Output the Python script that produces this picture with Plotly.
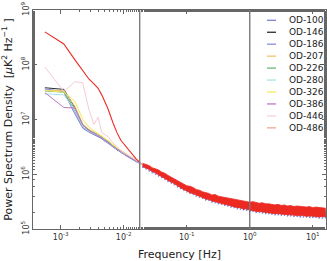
import numpy as np
import plotly.graph_objects as go

# ---------------- data ----------------
series_names = ["OD-100", "OD-146", "OD-186", "OD-207", "OD-226",
                "OD-280", "OD-326", "OD-386", "OD-446", "OD-486"]

# low-frequency spectral bins [Hz]
freq_lo = [0.00056, 0.00112, 0.00168, 0.00224, 0.0028, 0.00336, 0.00392, 0.00448,
           0.00504, 0.0056, 0.0067, 0.0078, 0.009, 0.0112, 0.0134, 0.0157, 0.0179]

# log10 PSD [uK^2/Hz] at freq_lo
lo_od100 = [7.54, 7.50, 7.10, 6.84, 6.77, 6.72, 6.69, 6.65, 6.60, 6.57, 6.50, 6.44, 6.40, 6.33, 6.27, 6.23, 6.20]
lo_od146 = [7.58, 7.55, 7.22, 6.90, 6.81, 6.74, 6.70, 6.67, 6.63, 6.59, 6.51, 6.45, 6.41, 6.34, 6.29, 6.25, 6.21]
lo_od186 = [7.56, 7.51, 7.15, 6.86, 6.78, 6.73, 6.70, 6.66, 6.61, 6.58, 6.51, 6.45, 6.41, 6.34, 6.28, 6.24, 6.20]
lo_od207 = [7.53, 7.53, 7.24, 6.92, 6.82, 6.77, 6.72, 6.69, 6.64, 6.61, 6.53, 6.47, 6.43, 6.36, 6.30, 6.26, 6.22]
lo_od226 = [7.52, 7.50, 7.18, 6.89, 6.80, 6.76, 6.71, 6.68, 6.63, 6.60, 6.52, 6.46, 6.42, 6.35, 6.29, 6.25, 6.21]
lo_od280 = [7.47, 7.45, 7.17, 6.87, 6.79, 6.74, 6.70, 6.67, 6.62, 6.59, 6.51, 6.45, 6.41, 6.35, 6.29, 6.25, 6.21]
lo_od326 = [7.53, 7.50, 7.33, 7.00, 6.86, 6.80, 6.74, 6.70, 6.66, 6.62, 6.55, 6.48, 6.44, 6.37, 6.31, 6.26, 6.22]
lo_od386 = [7.49, 7.22, 7.21, 6.90, 6.80, 6.75, 6.70, 6.67, 6.62, 6.59, 6.51, 6.46, 6.42, 6.35, 6.29, 6.25, 6.21]
lo_od446 = [7.96, 7.51, 7.69, 7.67, 7.18, 6.91, 7.04, 6.76, 6.72, 6.69, 6.58, 6.50, 6.43, 6.36, 6.30, 6.26, 6.22]
lo_od486 = [8.60, 8.38, 8.09, 7.89, 7.74, 7.65, 7.57, 7.45, 7.33, 7.20, 6.95, 6.76, 6.62, 6.48, 6.38, 6.28, 6.22]

# high-frequency part [Hz]
freq_hi = [0.01995, 0.02239, 0.02512, 0.02818, 0.03162, 0.03548, 0.03981, 0.04467, 0.05012, 0.05623,
           0.0631, 0.07079, 0.07943, 0.08913, 0.1, 0.1122, 0.1259, 0.1413, 0.1585, 0.1778,
           0.1995, 0.2239, 0.2512, 0.2818, 0.3162, 0.3548, 0.3981, 0.4467, 0.5012, 0.5623,
           0.631, 0.7079, 0.7943, 0.8913, 1.0, 1.122, 1.259, 1.413, 1.585, 1.778,
           1.995, 2.239, 2.512, 2.818, 3.162, 3.548, 3.981, 4.467, 5.012, 5.623,
           6.31, 7.079, 7.943, 8.913, 10.0, 11.22, 12.59, 14.13, 15.85]

# log10 PSD, typical level of the cluster of spectra
hi_center = [6.17, 6.14, 6.12, 6.09, 6.06, 6.03, 6.00, 5.97, 5.93, 5.90,
             5.87, 5.83, 5.80, 5.77, 5.74, 5.72, 5.70, 5.67, 5.65, 5.63,
             5.61, 5.59, 5.57, 5.56, 5.54, 5.53, 5.51, 5.50, 5.49, 5.47,
             5.46, 5.45, 5.44, 5.43, 5.42, 5.41, 5.40, 5.39, 5.39, 5.38,
             5.37, 5.37, 5.36, 5.36, 5.35, 5.35, 5.34, 5.34, 5.33, 5.33,
             5.33, 5.32, 5.32, 5.32, 5.31, 5.31, 5.31, 5.30, 5.30]
# upper / lower envelope of the noisy OD-486 spectrum
red_upper = [6.20, 6.18, 6.16, 6.12, 6.10, 6.08, 6.04, 6.02, 5.98, 5.95,
             5.92, 5.89, 5.85, 5.83, 5.79, 5.78, 5.76, 5.72, 5.71, 5.68,
             5.67, 5.65, 5.62, 5.63, 5.60, 5.59, 5.58, 5.56, 5.56, 5.54,
             5.53, 5.53, 5.51, 5.51, 5.49, 5.50, 5.48, 5.47, 5.48, 5.46,
             5.46, 5.45, 5.44, 5.45, 5.43, 5.44, 5.42, 5.43, 5.41, 5.42,
             5.41, 5.41, 5.40, 5.41, 5.39, 5.40, 5.39, 5.39, 5.38]
red_lower = [6.14, 6.11, 6.09, 6.05, 6.03, 5.99, 5.96, 5.93, 5.89, 5.86,
             5.83, 5.79, 5.76, 5.72, 5.70, 5.66, 5.65, 5.62, 5.60, 5.58,
             5.55, 5.54, 5.51, 5.50, 5.48, 5.47, 5.45, 5.44, 5.42, 5.41,
             5.39, 5.39, 5.36, 5.37, 5.34, 5.34, 5.32, 5.32, 5.31, 5.31,
             5.29, 5.29, 5.28, 5.28, 5.27, 5.27, 5.26, 5.26, 5.25, 5.25,
             5.24, 5.25, 5.23, 5.24, 5.23, 5.23, 5.22, 5.23, 5.22]
# lower envelope of OD-100 (peeks out below the red band)
blue_lower = [6.12, 6.09, 6.05, 6.02, 5.99, 5.96, 5.93, 5.90, 5.86, 5.83,
              5.80, 5.76, 5.73, 5.70, 5.67, 5.64, 5.62, 5.59, 5.57, 5.55,
              5.52, 5.51, 5.48, 5.47, 5.45, 5.44, 5.42, 5.41, 5.39, 5.38,
              5.36, 5.35, 5.34, 5.33, 5.31, 5.31, 5.29, 5.29, 5.28, 5.27,
              5.27, 5.26, 5.25, 5.25, 5.24, 5.24, 5.23, 5.23, 5.22, 5.22,
              5.21, 5.21, 5.21, 5.20, 5.20, 5.20, 5.19, 5.19, 5.19]

marker_freqs = [0.0179, 1.0]

colors = ["#7b80d3", "#2b2b2b", "#8a8fdc", "#f5c26b", "#6fb675",
          "#a5e3ea", "#f0ec5a", "#bf78c2", "#f7cad3", "#ec2a22"]
legend_colors = ["#7b80d3", "#2b2b2b", "#8a8fdc", "#f5c26b", "#6fb675",
                 "#a5e3ea", "#f0ec5a", "#bf78c2", "#f7d4da", "#f2a597"]

lo_data = [lo_od100, lo_od146, lo_od186, lo_od207, lo_od226,
           lo_od280, lo_od326, lo_od386, lo_od446, lo_od486]


def zigzag(freqs, upper, lower):
    fx, fy = [], []
    for f, a, b in zip(freqs, upper, lower):
        fx += [f, f]
        fy += [a, b]
    return fx, fy


fig = go.Figure()
for i, name in enumerate(series_names):
    if name == "OD-486":
        # line for the low-frequency part, filled envelope for the noisy part
        fig.add_trace(go.Scatter(x=freq_lo, y=np.power(10.0, np.array(lo_data[i])),
                                 mode="lines", name=name, legendgroup=name, showlegend=False,
                                 line=dict(color=colors[i], width=1.1)))
        bx = list(freq_hi) + list(freq_hi[::-1])
        by = np.power(10.0, np.array(list(red_upper) + list(red_lower[::-1])))
        fig.add_trace(go.Scatter(x=bx, y=by, mode="lines", name=name, legendgroup=name,
                                 showlegend=False, fill="toself", fillcolor=colors[i],
                                 line=dict(color=colors[i], width=0.8)))
        continue
    if name == "OD-100":
        hx, hy = zigzag(freq_hi, hi_center, blue_lower)
    else:
        hx, hy = list(freq_hi), list(hi_center)
    x = list(freq_lo) + hx
    y = np.power(10.0, np.array(list(lo_data[i]) + hy))
    fig.add_trace(go.Scatter(x=x, y=y, mode="lines", name=name, showlegend=False,
                             line=dict(color=colors[i], width=1.0)))

for f in marker_freqs:
    fig.add_vline(x=f, line=dict(color="#7a7a7a", width=1.4))

# custom compact legend
L, T, W, H = 33, 10, 293, 219
for i, name in enumerate(series_names):
    yc = 20.3 + i * 11.95
    yp = 1 - (yc - T) / H
    fig.add_shape(type="line", xref="paper", yref="paper",
                  x0=(267 - L) / W, x1=(276 - L) / W, y0=yp, y1=yp,
                  line=dict(color=legend_colors[i], width=1.3))
    fig.add_annotation(xref="paper", yref="paper", x=(287 - L) / W, y=yp,
                       text=name, showarrow=False, xanchor="left", yanchor="middle",
                       font=dict(size=9, color="#222"))

axis_common = dict(showline=True, linecolor="#666", linewidth=1, mirror="allticks",
                   ticks="inside", ticklen=4, tickcolor="#666", showgrid=False, zeroline=False,
                   automargin=False,
                   tickfont=dict(size=8, color="#333"),
                   minor=dict(ticks="inside", ticklen=2, tickcolor="#666", showgrid=False))

fig.update_xaxes(type="log", range=[-3.44, 1.21],
                 tickvals=[1e-3, 1e-2, 1e-1, 1, 10],
                 ticktext=["10<sup>-3</sup>", "10<sup>-2</sup>", "10<sup>-1</sup>",
                           "10<sup>0</sup>", "10<sup>1</sup>"],
                 title=dict(text="Frequency [Hz]", font=dict(size=11, color="#222"), standoff=10),
                 **axis_common)
fig.update_yaxes(type="log", range=[5, 9],
                 tickvals=[1e5, 1e6, 1e7, 1e8, 1e9],
                 ticktext=["10<sup>5</sup>", "10<sup>6</sup>", "10<sup>7</sup>",
                           "10<sup>8</sup>", "10<sup>9</sup>"],
                 tickangle=-90,
                 title=dict(text="Power Spectrum Density  [<i>μ</i>K<sup>2</sup> Hz<sup>−1</sup> ]",
                            font=dict(size=11, color="#222"), standoff=7),
                 **axis_common)

fig.update_layout(width=327, height=261, margin=dict(l=33, r=1, t=10, b=32),
                  plot_bgcolor="white", paper_bgcolor="white",
                  font=dict(family="DejaVu Sans", color="#222"), showlegend=False)

fig.write_html("out.html", config={"displayModeBar": False},
               post_script="document.body.style.margin='0px';"
                           "document.body.style.overflow='hidden';")
